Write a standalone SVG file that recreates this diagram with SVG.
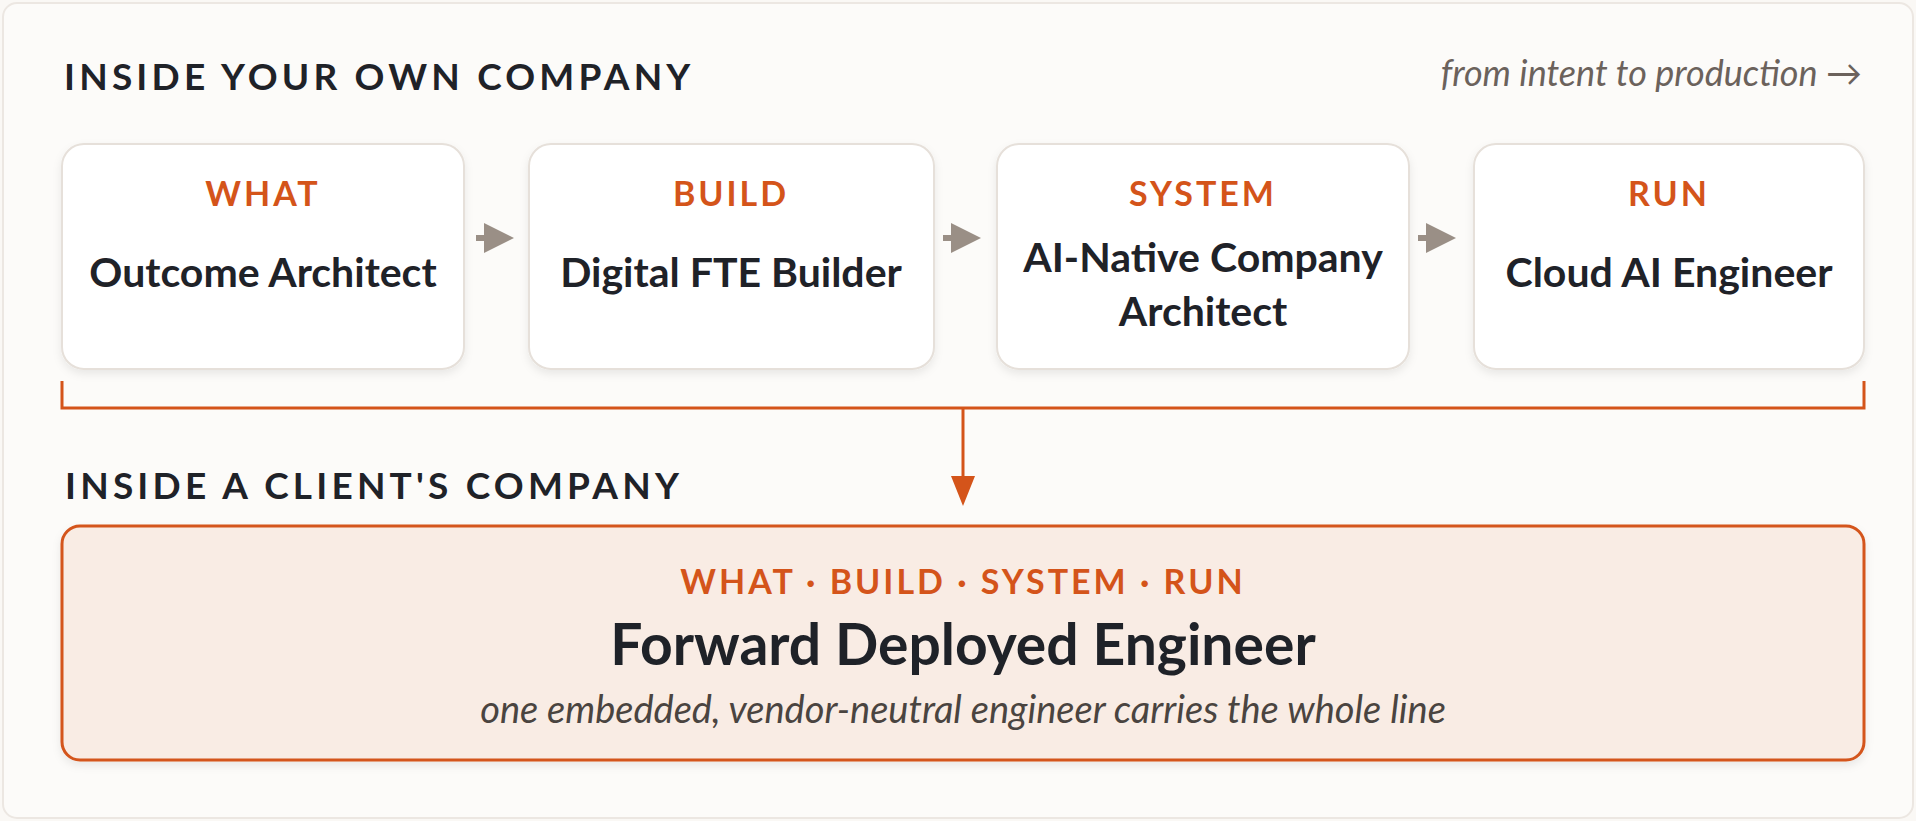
<svg xmlns="http://www.w3.org/2000/svg" width="1916" height="821" viewBox="0 0 1916 821">
<defs>
<style>
.h{font-family:"Lato","Liberation Sans",sans-serif;font-weight:bold;font-size:37px;letter-spacing:4.2px;fill:#1f2228}
.lab{font-family:"Lato","Liberation Sans",sans-serif;font-weight:bold;font-size:34px;letter-spacing:3px;fill:#d4541a;text-anchor:middle}
.nm{font-family:"Lato","Liberation Sans",sans-serif;font-weight:bold;font-size:41px;fill:#1f2228;text-anchor:middle}
.box{fill:#ffffff;stroke:#e6e0da;stroke-width:2}
.ga{stroke:#9a8f86;stroke-width:6;fill:none}
</style>
<filter id="sh" x="-10%" y="-10%" width="120%" height="130%"><feDropShadow dx="0" dy="4" stdDeviation="4" flood-color="#000" flood-opacity="0.08"/></filter>
<marker id="ag" viewBox="0 0 10 10" refX="8" refY="5" markerWidth="5" markerHeight="5" orient="auto"><path d="M0,0 L10,5 L0,10 z" fill="#9a8f86"/></marker>
</defs>
<rect x="0" y="0" width="1916" height="821" fill="#faf8f5"/>
<rect x="3" y="3" width="1910" height="815" rx="14" fill="#fcfbf9" stroke="#ece7e2" stroke-width="2"/>
<text class="h" x="64" y="90">INSIDE YOUR OWN COMPANY</text>
<text x="1862" y="86" text-anchor="end" font-family="Lato,'Liberation Sans',sans-serif" font-style="italic" font-size="36" fill="#6b625c">from intent to production →</text>
<g id="n1"><rect class="box" x="62" y="144" width="402" height="225" rx="22" filter="url(#sh)"/><text class="lab" x="263" y="206">WHAT</text><text class="nm" x="263" y="287">Outcome Architect</text></g>
<g id="n2"><rect class="box" x="529" y="144" width="405" height="225" rx="22" filter="url(#sh)"/><text class="lab" x="731" y="206">BUILD</text><text class="nm" x="731" y="287">Digital FTE Builder</text></g>
<g id="n3"><rect class="box" x="997" y="144" width="412" height="225" rx="22" filter="url(#sh)"/><text class="lab" x="1203" y="206">SYSTEM</text><text class="nm" x="1203" y="272">AI-Native Company</text><text class="nm" x="1203" y="326">Architect</text></g>
<g id="n4"><rect class="box" x="1474" y="144" width="390" height="225" rx="22" filter="url(#sh)"/><text class="lab" x="1669" y="206">RUN</text><text class="nm" x="1669" y="287">Cloud AI Engineer</text></g>
<g id="connectors">
<path class="ga" d="M476,238 H508" marker-end="url(#ag)"/>
<path class="ga" d="M943,238 H975" marker-end="url(#ag)"/>
<path class="ga" d="M1418,238 H1450" marker-end="url(#ag)"/>
<path d="M62,381 V408 H1864 V381" fill="none" stroke="#d4541a" stroke-width="3"/>
<path d="M963,408 V480" fill="none" stroke="#d4541a" stroke-width="3"/>
<path d="M951,476 L963,506 L975,476 z" fill="#d4541a"/>
</g>
<text class="h" x="65" y="499">INSIDE A CLIENT'S COMPANY</text>
<g id="fde">
<rect x="62" y="526" width="1802" height="234" rx="18" fill="#f9ece4" stroke="#d4541a" stroke-width="3" filter="url(#sh)"/>
<text class="lab" x="963" y="594">WHAT · BUILD · SYSTEM · RUN</text>
<text x="963" y="665" text-anchor="middle" font-family="Lato,'Liberation Sans',sans-serif" font-weight="bold" font-size="57" fill="#1f2228">Forward Deployed Engineer</text>
<text x="963" y="723" text-anchor="middle" font-family="Lato,'Liberation Sans',sans-serif" font-style="italic" font-size="38" fill="#4a4440">one embedded, vendor-neutral engineer carries the whole line</text>
</g>
</svg>
